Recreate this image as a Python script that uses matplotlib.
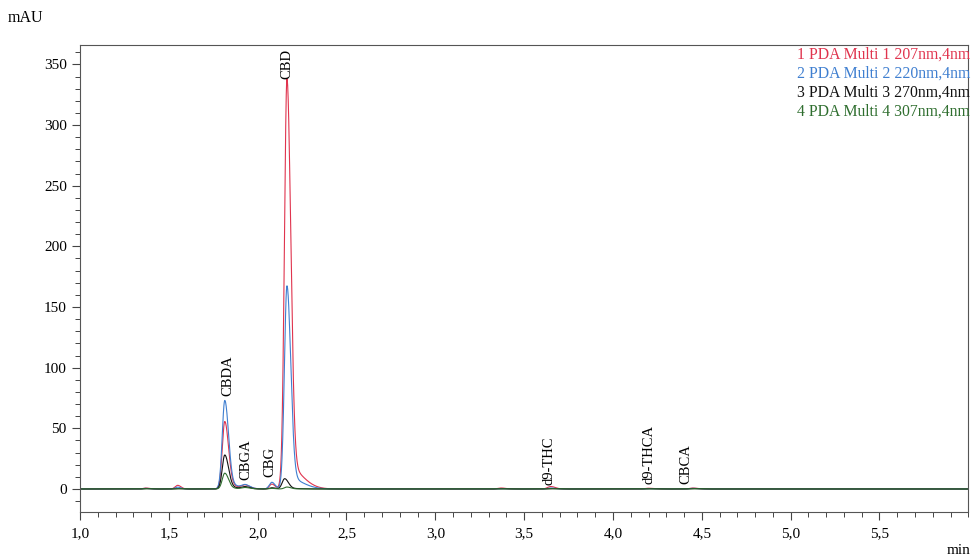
import numpy as np
import matplotlib
matplotlib.use("Agg")
import matplotlib.pyplot as plt
from matplotlib.ticker import MultipleLocator, FixedLocator

plt.rcParams['font.family'] = ['Liberation Serif', 'DejaVu Serif']

# ---- data ----
peak_rt = [1.37, 1.55, 1.815, 1.93, 2.08, 2.165, 3.37, 3.65, 4.20, 4.45]
channel_names = ["1 PDA Multi 1 207nm,4nm", "2 PDA Multi 2 220nm,4nm",
                 "3 PDA Multi 3 270nm,4nm", "4 PDA Multi 4 307nm,4nm"]
h_207 = [0.8, 3.0, 53.0, 2.5, 4.0, 319.0, 0.8, 2.0, 0.6, 0.8]
h_220 = [0.5, 1.5, 69.5, 2.5, 5.5, 158.0, 0.3, 0.8, 0.3, 0.5]
h_270 = [0.3, 0.3, 26.7, 1.5, 1.0, 8.0, 0.2, 0.3, 0.2, 0.3]
h_307 = [0.2, 0.2, 12.4, 1.0, 0.5, 1.5, 0.1, 0.2, 0.1, 0.2]
rt_270_cbd = 2.152
peak_sigma_l = [0.014, 0.014, 0.014, 0.018, 0.014, 0.014, 0.018, 0.018, 0.018, 0.018]
peak_sigma_r = [0.018, 0.018, 0.021, 0.025, 0.018, 0.021, 0.025, 0.025, 0.025, 0.025]
tail_frac = [0.0, 0.0, 0.05, 0.0, 0.0, 0.06, 0.0, 0.0, 0.0, 0.0]
colors = ["#e0344e", "#3f7fd0", "#111111", "#2f6e2f"]

label_names = ["CBDA", "CBGA", "CBG", "CBD", "d9-THC", "d9-THCA", "CBCA"]
label_x = [1.83, 1.935, 2.07, 2.165, 3.64, 4.205, 4.41]
label_y = [77, 7, 10, 338, 3, 4, 4]

xticks = [1.0, 1.5, 2.0, 2.5, 3.0, 3.5, 4.0, 4.5, 5.0, 5.5]
xtick_labels = ["1,0", "1,5", "2,0", "2,5", "3,0", "3,5", "4,0", "4,5", "5,0", "5,5"]
yticks = [0, 50, 100, 150, 200, 250, 300, 350]


def asym(t, rt, h, sl, sr):
    s = np.where(t < rt, sl, sr)
    return h * np.exp(-0.5 * ((t - rt) / s) ** 2)


def trace(t, heights, rts=peak_rt):
    y = np.zeros_like(t)
    for rt, h, sl, sr, tf in zip(rts, heights, peak_sigma_l, peak_sigma_r, tail_frac):
        y += asym(t, rt, h, sl, sr)
        if tf > 0:
            y += asym(t, rt, h * tf, 0.02, 0.08)
    return y


t = np.linspace(1.0, 6.0, 5001)

fig = plt.figure(figsize=(9.73, 5.58), dpi=100)
ax = fig.add_axes([0.0822, 0.0824, 0.913, 0.8370])

rts_270 = list(peak_rt)
rts_270[5] = rt_270_cbd
series = [(h_207, peak_rt), (h_220, peak_rt), (h_270, rts_270), (h_307, peak_rt)]
for (heights, rts), c in zip(series, colors):
    ax.plot(t, trace(t, heights, rts), color=c, lw=0.8)

for name, x, y in zip(label_names, label_x, label_y):
    ax.text(x, y, name, rotation=90, ha="center", va="bottom", fontsize=10.5)

ax.set_xlim(1.0, 6.0)
ax.set_ylim(-19, 366)
ax.xaxis.set_major_locator(FixedLocator(xticks))
ax.set_xticklabels(xtick_labels, fontsize=11)
ax.xaxis.set_minor_locator(MultipleLocator(0.1))
ax.yaxis.set_major_locator(FixedLocator(yticks))
ax.set_yticklabels([str(v) for v in yticks], fontsize=11)
ax.yaxis.set_minor_locator(MultipleLocator(10))
ax.tick_params(which="major", direction="out", length=6, width=0.8, color="#444444")
ax.tick_params(which="minor", direction="out", length=3.5, width=0.7, color="#444444")
ax.tick_params(axis="x", pad=5)
for sp in ax.spines.values():
    sp.set_color("#555555")
    sp.set_linewidth(0.8)

legend_y = [0.9786, 0.938, 0.897, 0.8565]
for name, c, ly in zip(channel_names, colors, legend_y):
    ax.text(1.002, ly, name, transform=ax.transAxes, ha="right",
            va="center", fontsize=11.3, color=c)

fig.text(0.008, 0.968, "mAU", fontsize=11.5, ha="left", va="center")
fig.text(0.997, 0.002, "min", fontsize=11, ha="right", va="bottom")

fig.savefig("out.png", dpi=100)
